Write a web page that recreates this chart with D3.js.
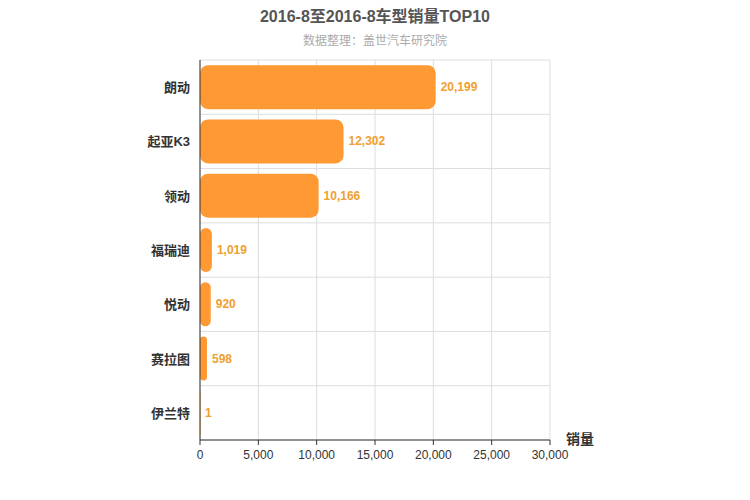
<!DOCTYPE html>
<html><head><meta charset="utf-8">
<script src="https://cdn.jsdelivr.net/npm/d3@7"></script>
<style>body{margin:0;background:#fff;font-family:"Liberation Sans","Noto Sans CJK SC",sans-serif;}</style>
</head><body>
<svg id="chart" width="750" height="500"></svg>
<script>
var categories = ['朗动', '起亚K3', '领动', '福瑞迪', '悦动', '赛拉图', '伊兰特'];
var sales = [20199, 12302, 10166, 1019, 920, 598, 1];
var xTicks = [0, 5000, 10000, 15000, 20000, 25000, 30000];

var svg = d3.select('#chart');
var x = d3.scaleLinear().domain([0, 30000]).range([200, 550]);
var y = d3.scaleBand().domain(categories).range([60, 440]).paddingInner(0.19).paddingOuter(0.095);

svg.append('text').attr('x', 375).attr('y', 22).attr('text-anchor', 'middle')
   .style('font-size', '16px').style('font-weight', 'bold').style('fill', '#555')
   .text('2016-8至2016-8车型销量TOP10');
svg.append('text').attr('x', 375).attr('y', 45).attr('text-anchor', 'middle')
   .style('font-size', '12px').style('fill', '#aaa').text('数据整理：盖世汽车研究院');

// grid
svg.selectAll('.vg').data(xTicks).enter().append('line')
   .attr('x1', function(d){return x(d);}).attr('x2', function(d){return x(d);})
   .attr('y1', 60).attr('y2', 440).style('stroke', '#ddd');
var step = 380 / categories.length;
svg.selectAll('.hg').data(d3.range(categories.length + 1)).enter().append('line')
   .attr('x1', 200).attr('x2', 550)
   .attr('y1', function(d){return 60 + d * step;}).attr('y2', function(d){return 60 + d * step;})
   .style('stroke', '#ddd');

svg.selectAll('.bar').data(sales).enter().append('rect')
   .attr('x', x(0)).attr('y', function(d, i){return y(categories[i]);})
   .attr('width', function(d){return Math.max(x(d) - x(0), 0.5);})
   .attr('height', y.bandwidth()).attr('rx', function(d){return Math.min(8, (x(d) - x(0)) / 2);})
   .style('fill', '#ff9933');

svg.selectAll('.val').data(sales).enter().append('text')
   .attr('x', function(d){return x(d) + 5;})
   .attr('y', function(d, i){return y(categories[i]) + y.bandwidth() / 2 + 4;})
   .style('font-size', '12px').style('font-weight', 'bold').style('fill', '#f0a030')
   .text(function(d){return d3.format(',')(d);});

svg.selectAll('.cat').data(categories).enter().append('text')
   .attr('x', 190).attr('y', function(d){return y(d) + y.bandwidth() / 2 + 5;})
   .attr('text-anchor', 'end').style('font-size', '13px').style('font-weight', 'bold').style('fill', '#333')
   .text(function(d){return d;});

svg.append('line').attr('x1', 200).attr('x2', 200).attr('y1', 60).attr('y2', 440).style('stroke', '#333');
svg.append('line').attr('x1', 200).attr('x2', 550).attr('y1', 440).attr('y2', 440).style('stroke', '#333');
svg.selectAll('.tk').data(xTicks).enter().append('line')
   .attr('x1', function(d){return x(d);}).attr('x2', function(d){return x(d);})
   .attr('y1', 440).attr('y2', 445).style('stroke', '#333');
svg.selectAll('.tl').data(xTicks).enter().append('text')
   .attr('x', function(d){return x(d);}).attr('y', 459).attr('text-anchor', 'middle')
   .style('font-size', '12px').style('fill', '#333').text(function(d){return d3.format(',')(d);});
svg.append('text').attr('x', 580).attr('y', 444).attr('text-anchor', 'middle')
   .style('font-size', '14px').style('font-weight', 'bold').style('fill', '#333').text('销量');
</script>
</body></html>
